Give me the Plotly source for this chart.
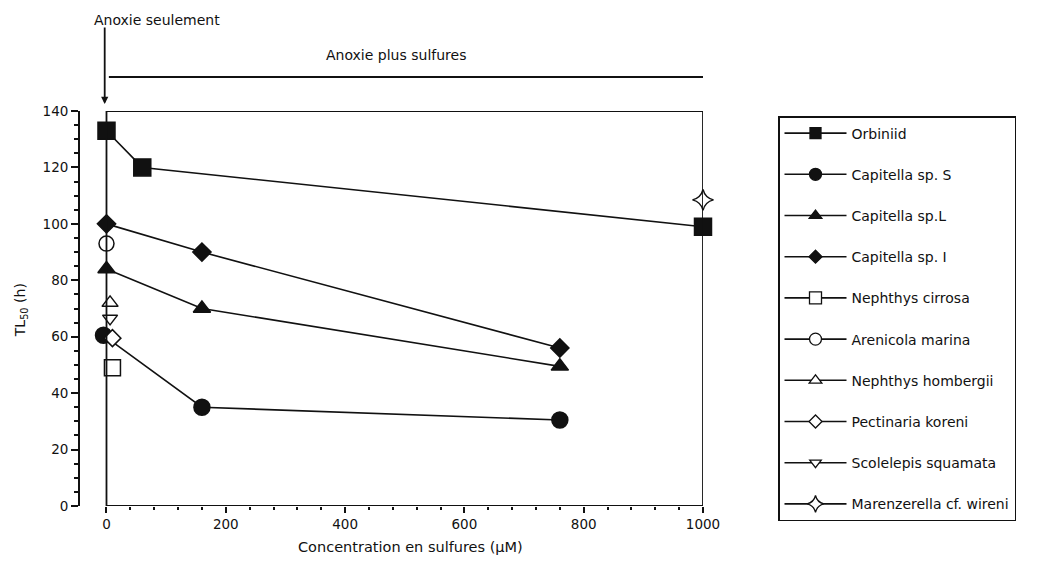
import plotly.graph_objects as go

# concentrations en sulfures (µM) et TL50 (h)
especes = ["Orbiniid", "Capitella sp. S", "Capitella sp.L", "Capitella sp. I",
           "Nephthys cirrosa", "Arenicola marina", "Nephthys hombergii",
           "Pectinaria koreni", "Scolelepis squamata", "Marenzerella cf. wireni"]

x_orbiniid = [0, 60, 1000]
y_orbiniid = [133, 120, 99]
x_cap_s = [-5, 160, 760]
y_cap_s = [60.5, 35, 30.5]
x_cap_l = [0, 160, 760]
y_cap_l = [84, 70, 49.5]
x_cap_i = [0, 160, 760]
y_cap_i = [100, 90, 56]
x_cirrosa = [10]
y_cirrosa = [49]
x_arenicola = [0]
y_arenicola = [93]
x_hombergii = [6]
y_hombergii = [72]
x_pectinaria = [10]
y_pectinaria = [59.5]
x_scolelepis = [6]
y_scolelepis = [66.5]
x_marenzerella = [1000]
y_marenzerella = [108.5]

xs = [x_orbiniid, x_cap_s, x_cap_l, x_cap_i, x_cirrosa, x_arenicola,
      x_hombergii, x_pectinaria, x_scolelepis, x_marenzerella]
ys = [y_orbiniid, y_cap_s, y_cap_l, y_cap_i, y_cirrosa, y_arenicola,
      y_hombergii, y_pectinaria, y_scolelepis, y_marenzerella]

symboles = ["square", "circle", "triangle-up", "diamond", "square", "circle",
            "triangle-up", "diamond", "triangle-down", "star-diamond"]
pleins = [True, True, True, True, False, False, False, False, False, False]
tailles = [17, 16, 15, 14, 16, 15, 14, 13, 13, 15]
tailles_legende = [11, 12, 11, 10, 12, 12, 11, 10, 10, 12]

FONT = "DejaVu Sans, Verdana, sans-serif"
NOIR = "#111111"

fig = go.Figure()
for i, nom in enumerate(especes):
    couleur = NOIR if pleins[i] else "white"
    fig.add_trace(go.Scatter(
        x=xs[i], y=ys[i], name=nom, mode="lines+markers",
        legendgroup=str(i), showlegend=False,
        line=dict(color=NOIR, width=1.6),
        marker=dict(symbol=symboles[i], size=tailles[i], color=couleur,
                    line=dict(color=NOIR, width=1.5)),
        cliponaxis=False,
    ))
    # entree de legende avec des symboles plus petits
    fig.add_trace(go.Scatter(
        x=[None], y=[None], name=nom, mode="lines+markers",
        legendgroup=str(i), showlegend=True,
        line=dict(color=NOIR, width=1.6),
        marker=dict(symbol=symboles[i], size=tailles_legende[i], color=couleur,
                    line=dict(color=NOIR, width=1.3)),
    ))

# cadre du graphique
cadre = dict(type="line", xref="x", yref="y", line=dict(color=NOIR, width=1.8))
fig.add_shape(x0=0, x1=1000, y0=0, y1=0, **cadre)
fig.add_shape(x0=0, x1=1000, y0=140, y1=140, **cadre)
fig.add_shape(x0=1000, x1=1000, y0=0, y1=140, **cadre)
fig.add_shape(x0=0, x1=0, y0=-4, y1=140, **cadre)

# en-tete au-dessus du graphique (coordonnees papier en y)
def py(p):
    return (506 - p) / 395

fig.add_shape(type="line", xref="x", yref="paper", x0=4, x1=1000,
              y0=py(77), y1=py(77), line=dict(color=NOIR, width=1.8))
fig.add_annotation(x=-3, y=py(104), ax=0, ay=-78, xref="x", yref="paper",
                   axref="pixel", ayref="pixel", text="", showarrow=True,
                   arrowhead=2, arrowsize=0.8, arrowwidth=1.8, arrowcolor=NOIR)
fig.add_annotation(x=85, y=py(10), xref="x", yref="paper", text="Anoxie seulement",
                   showarrow=False, font=dict(size=14, color=NOIR))
fig.add_annotation(x=485, y=py(45), xref="x", yref="paper", text="Anoxie plus sulfures",
                   showarrow=False, font=dict(size=14, color=NOIR))
fig.add_annotation(x=509, y=py(557), xref="x", yref="paper",
                   text="Concentration en sulfures (µM)", showarrow=False,
                   font=dict(size=14.5, color=NOIR))
fig.add_annotation(x=-0.112, y=py(310), xref="paper", yref="paper",
                   text="TL<sub>50</sub> (h)", textangle=-90, showarrow=False,
                   font=dict(size=14, color=NOIR))

fig.update_layout(
    width=1048, height=566,
    margin=dict(l=72, r=353, t=103, b=68, autoexpand=False),
    plot_bgcolor="white", paper_bgcolor="white",
    font=dict(family=FONT, size=13.5, color=NOIR),
    showlegend=True,
    legend=dict(x=(778 - 80) / 623, y=py(116), xanchor="left", yanchor="top",
                bordercolor=NOIR, borderwidth=1.5, bgcolor="white",
                font=dict(size=14, color=NOIR), traceorder="grouped",
                tracegroupgap=20, itemwidth=62, maxheight=520),
    xaxis=dict(range=[-44.4, 1000], showline=False, showgrid=False, zeroline=False,
               tickvals=list(range(0, 1001, 200)), ticks="outside", ticklen=6,
               tickwidth=1.5, tickcolor=NOIR,
               minor=dict(tickvals=list(range(0, 1001, 40)), ticks="outside",
                          ticklen=3, tickcolor=NOIR)),
    yaxis=dict(range=[0, 140], showline=True, linecolor=NOIR, linewidth=1.8,
               showgrid=False, zeroline=False, dtick=20, ticks="outside",
               ticklen=7, tickwidth=1.5, tickcolor=NOIR,
               minor=dict(dtick=5, ticks="outside", ticklen=4, tickcolor=NOIR)),
)

fig.write_html("out.html")
